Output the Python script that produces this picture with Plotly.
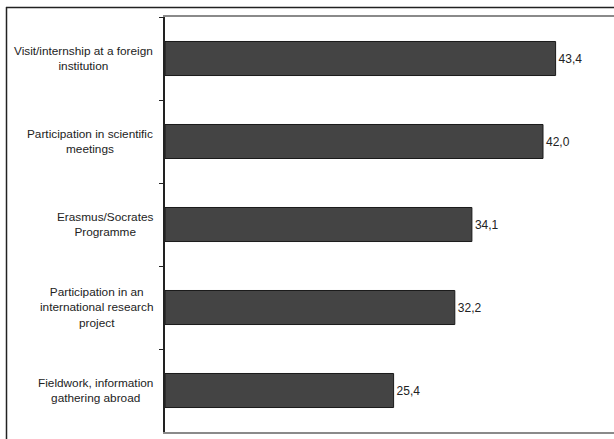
import plotly.graph_objects as go

# Share of respondents (%) by type of international experience
categories = [
    "Visit/internship at a foreign<br>institution",
    "Participation in scientific<br>meetings",
    "Erasmus/Socrates<br>Programme",
    "Participation in an<br>international research<br>project",
    "Fieldwork, information<br>gathering abroad",
]
values = [43.4, 42.0, 34.1, 32.2, 25.4]
value_labels = [f"{v:.1f}".replace(".", ",") for v in values]

W, H = 614, 439
ML, MT, MB, MR = 165, 17, 7, 0
plot_w = W - ML - MR
plot_h = H - MT - MB

FONT = "Liberation Sans, Arial, sans-serif"
LABEL_SIZE = 11.8
VALUE_SIZE = 12

fig = go.Figure()
fig.add_trace(go.Bar(
    x=values,
    y=categories,
    orientation="h",
    marker=dict(color="#444444", line=dict(color="#1a1a1a", width=1)),
    text=value_labels,
    textposition="outside",
    textfont=dict(family=FONT, size=VALUE_SIZE, color="#222222"),
    cliponaxis=False,
    width=0.41,
))

# category labels, centred multi-line text to the left of the axis
for cat in categories:
    fig.add_annotation(
        x=0, xref="paper", y=cat, yref="y",
        text=cat, showarrow=False,
        xanchor="right", yanchor="middle", align="center",
        xshift=-10,
        font=dict(family=FONT, size=LABEL_SIZE, color="#222222"),
    )

# outer frame (left and top edges)
def px_to_paper_x(px):
    return (px - ML) / plot_w

def px_to_paper_y(py):
    return 1 - (py - MT) / plot_h

frame = dict(type="line", xref="paper", yref="paper",
             line=dict(color="#222222", width=1.5))
fig.add_shape(**frame, x0=px_to_paper_x(6.5), x1=px_to_paper_x(6.5),
              y0=px_to_paper_y(7), y1=px_to_paper_y(H + 2))
fig.add_shape(**frame, x0=px_to_paper_x(6), x1=px_to_paper_x(W + 2),
              y0=px_to_paper_y(7.5), y1=px_to_paper_y(7.5))

fig.update_xaxes(
    range=[0, plot_w / 9.0],
    showgrid=False, zeroline=False,
    showline=True, mirror=True, linecolor="#8a8a8a", linewidth=1.5,
    showticklabels=False, ticks="",
)
fig.update_yaxes(
    categoryorder="array", categoryarray=categories,
    autorange="reversed",
    showgrid=False, zeroline=False,
    showline=True, linecolor="#222222", linewidth=1.5,
    ticks="outside", ticklen=4, tickcolor="#222222", tickwidth=1,
    tickson="boundaries",
    showticklabels=False,
)

fig.update_layout(
    width=W, height=H,
    margin=dict(l=ML, r=MR, t=MT, b=MB),
    paper_bgcolor="white", plot_bgcolor="white",
    showlegend=False,
    bargap=0.59,
    font=dict(family=FONT),
)

fig.write_html("out.html")
